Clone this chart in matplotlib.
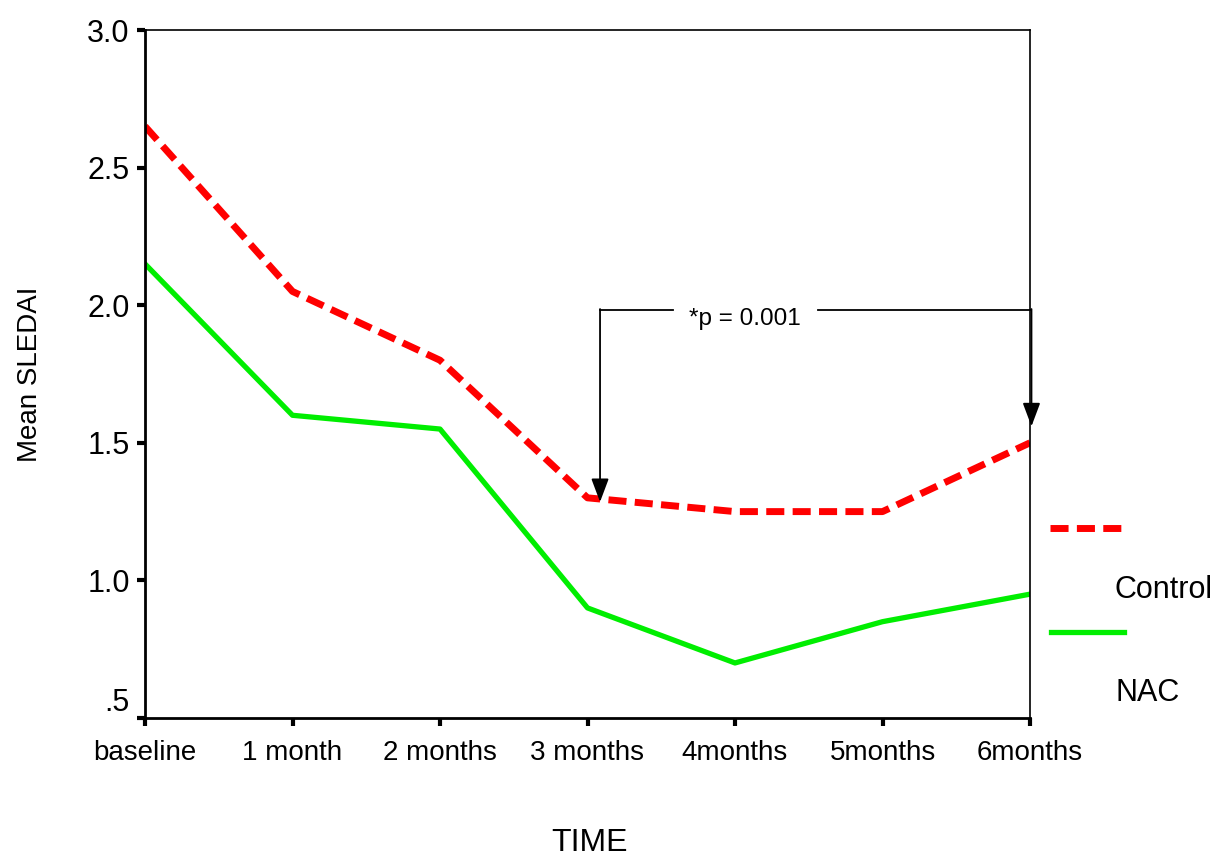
import matplotlib
matplotlib.use("Agg")
import matplotlib.pyplot as plt
from matplotlib.lines import Line2D

plt.rcParams['font.family'] = ['Liberation Sans', 'DejaVu Sans']

time_labels = ['baseline', '1 month', '2 months', '3 months', '4months', '5months', '6months']
control = [2.65, 2.05, 1.80, 1.30, 1.25, 1.25, 1.50]
nac = [2.15, 1.60, 1.55, 0.90, 0.70, 0.85, 0.95]
y_ticks = [0.5, 1.0, 1.5, 2.0, 2.5, 3.0]
y_tick_labels = ['.5', '1.0', '1.5', '2.0', '2.5', '3.0']
p_text = '*p = 0.001'

fig = plt.figure(figsize=(12.23, 8.57), dpi=100)
ax = fig.add_axes([145/1223, 1-718/857, 885/1223, 688/857])

x = list(range(len(time_labels)))
ax.plot(x, control, color='#ff0000', lw=5, dashes=(2.6, 1.2), solid_capstyle='butt')
ax.plot(x, nac, color='#00ee00', lw=3.8)

ax.set_xlim(0, 6)
ax.set_ylim(0.5, 3.0)
ax.set_xticks(x)
ax.set_xticklabels(time_labels, fontsize=20)
ax.set_yticks(y_ticks)
ax.set_yticklabels(y_tick_labels, fontsize=22)
ax.tick_params(axis='both', direction='out', length=6, width=3)
ax.tick_params(axis='x', pad=10)
ax.tick_params(axis='y', pad=5)
# the lowest y label sits above the axis corner
ax.get_yticklabels()[0].set_va('bottom')
for s in ['left', 'bottom']:
    ax.spines[s].set_linewidth(2)
for s in ['top', 'right']:
    ax.spines[s].set_linewidth(1.2)

ax.set_ylabel('Mean SLEDAI', fontsize=20, labelpad=32)
fig.text(590/1223, 1-843/857, 'TIME', fontsize=23, ha='center', va='center')

# significance bracket between 3 months and 6 months
yb = 1.983
arrow = '-|>,head_length=0.8,head_width=0.3'
ax.plot([3.085, 3.58], [yb, yb], color='black', lw=1.3)
ax.plot([4.56, 6.01], [yb, yb], color='black', lw=1.3, clip_on=False)
ax.annotate('', xy=(3.085, 1.285), xytext=(3.085, yb + 0.003),
            arrowprops=dict(arrowstyle=arrow, color='black', lw=1.3, mutation_scale=18,
                            shrinkA=0, shrinkB=0))
ax.annotate('', xy=(6.01, 1.56), xytext=(6.01, yb + 0.003),
            arrowprops=dict(arrowstyle=arrow, color='black', lw=1.3, mutation_scale=18,
                            shrinkA=0, shrinkB=0), annotation_clip=False)
ax.text(4.07, 1.95, p_text, fontsize=17.5, ha='center', va='center')

# legend drawn beside the plot
fig.add_artist(Line2D([1050/1223, 1122/1223], [1-528/857, 1-528/857],
                      color='#ff0000', lw=5, dashes=(2.6, 1.2), solid_capstyle='butt'))
fig.add_artist(Line2D([1051/1223, 1124/1223], [1-632/857, 1-632/857],
                      color='#00ee00', lw=3.8))
fig.text(1115/1223, 1-590/857, 'Control', fontsize=22, va='center', ha='left')
fig.text(1115/1223, 1-693/857, 'NAC', fontsize=22, va='center', ha='left')

fig.savefig('out.png', dpi=100)
